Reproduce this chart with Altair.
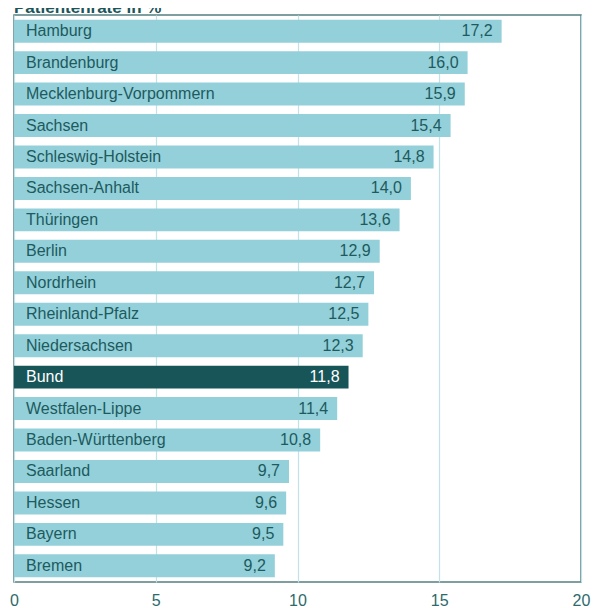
import altair as alt
import pandas as pd

title_text = "Patientenrate in %"
regions = ["Hamburg", "Brandenburg", "Mecklenburg-Vorpommern", "Sachsen",
           "Schleswig-Holstein", "Sachsen-Anhalt", "Thüringen", "Berlin",
           "Nordrhein", "Rheinland-Pfalz", "\u00a0Niedersachsen", "Bund",
           "Westfalen-Lippe", "Baden-Württenberg", "Saarland", "Hessen",
           "Bayern", "Bremen"]
values = [17.2, 16.0, 15.9, 15.4, 14.8, 14.0, 13.6, 12.9, 12.7, 12.5, 12.3,
          11.8, 11.4, 10.8, 9.7, 9.6, 9.5, 9.2]
x_ticks = [0, 5, 10, 15, 20]

df = pd.DataFrame({
    "region": regions,
    "value": values,
    "label": [f"{v:.1f}".replace(".", ",") for v in values],
    "kind": ["Bund" if r == "Bund" else "Land" for r in regions],
})

LIGHT = "#93d0d9"
DARK = "#185558"
TEXT = "#1e5a5e"

y_enc = alt.Y("region:N", sort=regions, axis=None,
              scale=alt.Scale(paddingInner=0.27, paddingOuter=0.15))
x_scale = alt.Scale(domain=[0, 20], nice=False, zero=True)

base = alt.Chart(df)

bars = base.mark_bar().encode(
    y=y_enc,
    x=alt.X("value:Q", scale=x_scale, title=None,
            axis=alt.Axis(values=x_ticks, grid=True, gridColor="#c3e2e7",
                          gridWidth=1.2, ticks=False, domain=False,
                          labelFontSize=16, labelColor="#2d6a6c",
                          labelFont="Liberation Sans", labelPadding=10,
                          labelFlush=False)),
    color=alt.Color("kind:N", scale=alt.Scale(domain=["Land", "Bund"],
                                              range=[LIGHT, DARK]), legend=None),
)

names = base.mark_text(align="left", baseline="middle", fontSize=16,
                       font="Liberation Sans").encode(
    y=y_enc,
    x=alt.value(12),
    text="region:N",
    color=alt.Color("kind:N", scale=alt.Scale(domain=["Land", "Bund"],
                                              range=[TEXT, "#ffffff"]), legend=None),
)

nums = base.mark_text(align="right", baseline="middle", fontSize=16,
                      font="Liberation Sans", dx=-9).encode(
    y=y_enc,
    x=alt.X("value:Q", scale=x_scale),
    text="label:N",
    color=alt.Color("kind:N", scale=alt.Scale(domain=["Land", "Bund"],
                                              range=[TEXT, "#ffffff"]), legend=None),
)

title = alt.Chart(pd.DataFrame({"t": [title_text]})).mark_text(
    align="left", baseline="alphabetic", fontSize=17, fontWeight="bold",
    font="Liberation Sans", color="#1b5558").encode(
    x=alt.value(0), y=alt.value(-2), text="t:N")

chart = alt.layer(bars, names, nums, title).resolve_scale(color="independent").properties(
    width=567, height=567,
    autosize=alt.AutoSizeParams(type="none"),
    padding={"left": 6, "top": 7, "right": 12, "bottom": 26},
).configure_view(stroke="#557f80", strokeWidth=1.5)

chart.save("out.html", embed_options={"renderer": "svg", "actions": False})
